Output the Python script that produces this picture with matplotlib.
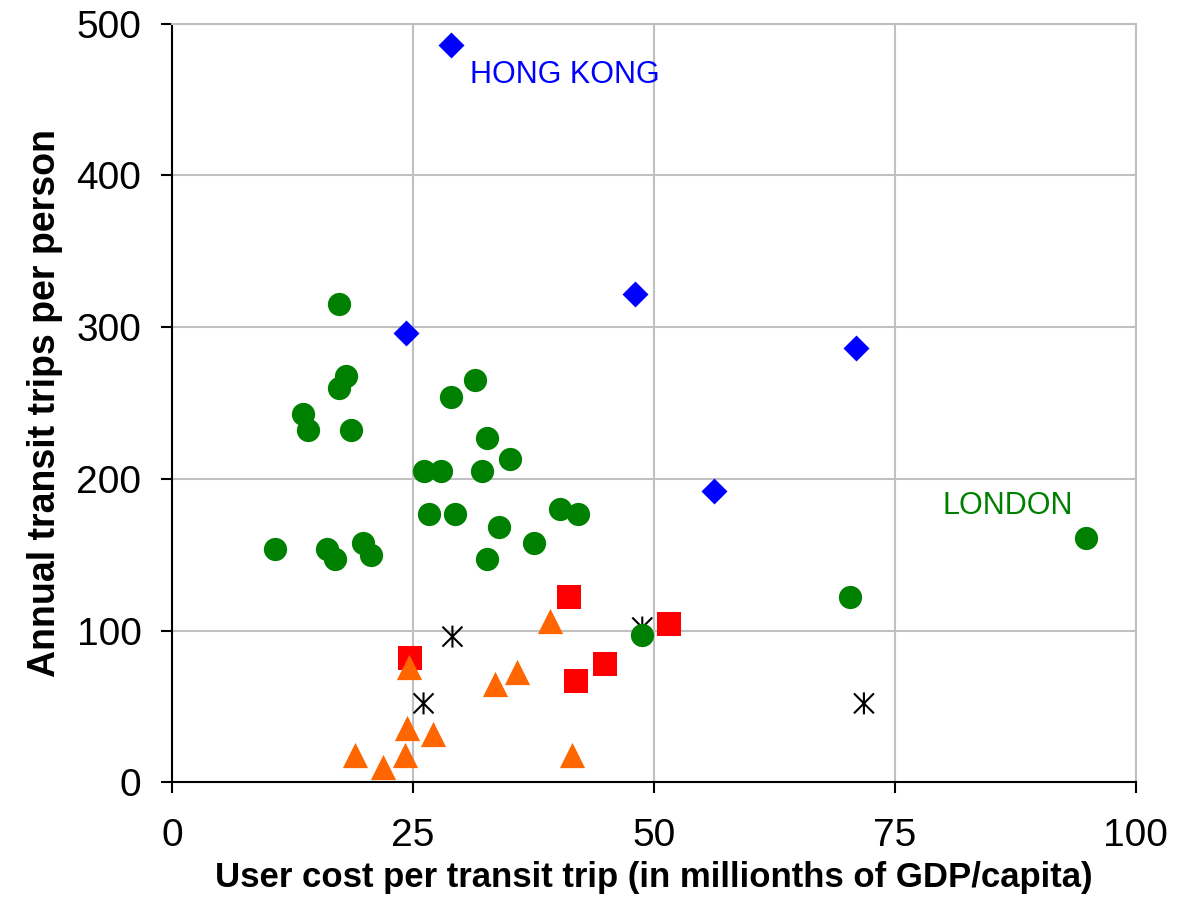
import matplotlib
matplotlib.use("Agg")
import matplotlib.pyplot as plt
from matplotlib.path import Path

plt.rcParams["font.family"] = ["Liberation Sans", "DejaVu Sans"]

# cities with very high transit use (blue diamonds)
asia_x = [29.0, 24.3, 48.0, 71.0, 56.2]
asia_y = [486, 296, 322, 286, 192]

# green circles
eur_x = [17.3, 18.1, 17.3, 13.6, 14.1, 18.6, 31.4, 29.0, 32.7, 35.1,
         26.2, 27.9, 32.2, 26.7, 29.4, 33.9, 40.3, 42.1, 37.6, 32.7,
         10.7, 16.1, 16.9, 19.8, 20.6, 70.4, 48.8, 94.8]
eur_y = [315, 268, 260, 243, 232, 232, 265, 254, 227, 213,
         205, 205, 205, 177, 177, 168, 180, 177, 158, 147,
         154, 154, 147, 158, 150, 122, 97, 161]

# red squares
red_x = [41.2, 51.6, 44.9, 41.9, 24.7]
red_y = [122, 104, 78, 67, 82]

# orange triangles
ora_x = [39.2, 24.6, 33.5, 35.8, 24.4, 27.1, 24.2, 21.9, 19.0, 41.5]
ora_y = [106, 76, 65, 73, 36, 32, 18, 10, 18, 18]

# black asterisks
ast_x = [29.1, 26.1, 48.8, 71.8]
ast_y = [96, 52, 102, 52]

xticks = [0, 25, 50, 75, 100]
yticks = [0, 100, 200, 300, 400, 500]

# excel-style asterisk: an X with a vertical bar
asterisk = Path(
    [(-1, -1), (1, 1), (-1, 1), (1, -1), (0, -1.1), (0, 1.1)],
    [Path.MOVETO, Path.LINETO, Path.MOVETO, Path.LINETO, Path.MOVETO, Path.LINETO],
)

fig = plt.figure(figsize=(11.83, 9.17), dpi=100)
ax = fig.add_axes([0.1454, 0.1469, 0.8146, 0.8274])

ax.scatter(ast_x, ast_y, marker=asterisk, s=250, facecolors="none",
           edgecolors="black", linewidths=1.5, zorder=3)
ax.scatter(ora_x, ora_y, marker="^", s=330, color="#FF6600", linewidths=0, zorder=4)
ax.scatter(red_x, red_y, marker="s", s=290, color="#FF0000", linewidths=0, zorder=3)
ax.scatter(eur_x, eur_y, marker="o", s=280, color="#008000", linewidths=0, zorder=3)
ax.scatter(asia_x, asia_y, marker="D", s=175, color="#0000FF", linewidths=0, zorder=3)

ax.text(30.9, 466, "HONG KONG", color="#0000FF", fontsize=22, va="center", ha="left")
ax.text(80.0, 182, "LONDON", color="#008000", fontsize=22, va="center", ha="left")

ax.set_xlim(0, 100)
ax.set_ylim(0, 500)
ax.set_xticks(xticks)
ax.set_yticks(yticks)
ax.grid(True, color="#c0c0c0", linewidth=1.5)
ax.set_axisbelow(True)

for side in ["top", "right"]:
    ax.spines[side].set_color("#c0c0c0")
    ax.spines[side].set_linewidth(1.5)
for side in ["left", "bottom"]:
    ax.spines[side].set_color("black")
    ax.spines[side].set_linewidth(1.5)

ax.tick_params(direction="out", length=8, width=1.5, labelsize=28, pad=14)
ax.tick_params(axis="x", pad=18)
ax.tick_params(top=False, right=False)

ax.set_xlabel("User cost per transit trip (in millionths of GDP/capita)",
              fontsize=25, fontweight="bold", labelpad=5)
ax.set_ylabel("Annual transit trips per person",
              fontsize=27, fontweight="bold", labelpad=10)

fig.savefig("out.png", dpi=100)
